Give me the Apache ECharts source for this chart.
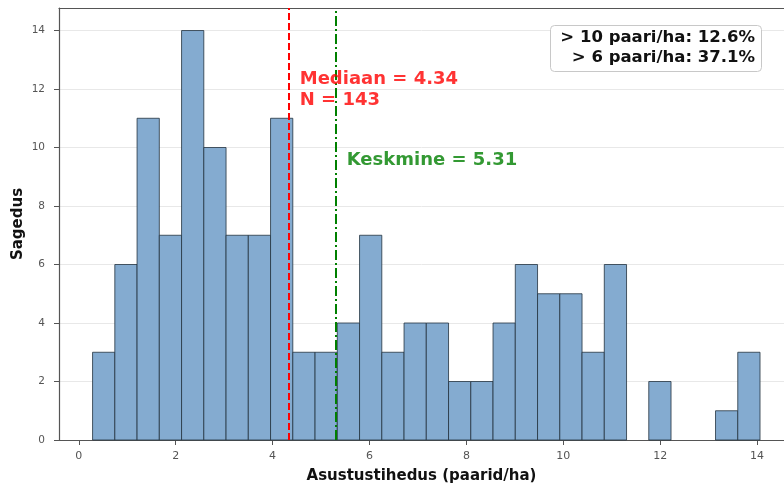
<!DOCTYPE html>
<html>
<head>
<meta charset="utf-8">
<script src="https://cdn.jsdelivr.net/npm/echarts@6/dist/echarts.min.js"></script>
<style>html,body{margin:0;padding:0;background:#fff}#c{width:784px;height:486px}</style>
</head>
<body>
<div id="c"></div>
<script>
// Histogram data (30 bins)
const binStart = 0.283;
const binWidth = 0.4593;
const counts = [3, 6, 11, 7, 14, 10, 7, 7, 11, 3, 3, 4, 7, 3, 4, 4, 2, 2, 4, 6, 5, 5, 3, 6, 0, 2, 0, 0, 1, 3];
const xTicks = [0, 2, 4, 6, 8, 10, 12, 14];
const medianVal = 4.34;
const meanVal = 5.31;
const nTotal = 143;
const shareLines = ['> 10 paari/ha: 12.6%', '> 6 paari/ha: 37.1%'];

const bins = counts.map((c, i) => [binStart + i * binWidth, binStart + (i + 1) * binWidth, c]);

const chart = echarts.init(document.getElementById('c'));
const font = 'DejaVu Sans';
const axisCol = '#555';
chart.setOption({
  animation: false,
  grid: { left: 59, right: 0, top: 8, bottom: 46, outerBoundsMode: 'none', containLabel: false },
  xAxis: [{
    type: 'value', min: -0.41, max: 14.557,
    name: 'Asustustihedus (paarid/ha)', nameLocation: 'middle', nameGap: 29, nameMoveOverlap: false,
    nameTextStyle: { fontFamily: font, fontWeight: 'bold', fontSize: 15, color: '#111' },
    axisLine: { show: true, onZero: false, lineStyle: { color: axisCol, width: 1.2 } },
    axisTick: { show: true, customValues: xTicks, length: 5, lineStyle: { color: axisCol } },
    axisLabel: { customValues: xTicks, fontFamily: font, fontSize: 11, color: '#555', margin: 11 },
    splitLine: { show: false }
  }, {
    type: 'value', min: -0.41, max: 14.557, position: 'top',
    axisLine: { show: true, onZero: false, lineStyle: { color: axisCol, width: 1.2 } },
    axisTick: { show: false }, axisLabel: { show: false }, splitLine: { show: false }
  }],
  yAxis: {
    type: 'value', min: 0, max: 14.77, interval: 2,
    name: 'Sagedus', nameLocation: 'middle', nameGap: 33, nameMoveOverlap: false,
    nameTextStyle: { fontFamily: font, fontWeight: 'bold', fontSize: 15, color: '#111' },
    axisLine: { show: true, onZero: false, lineStyle: { color: axisCol, width: 1.2 } },
    axisTick: { show: true, length: 5, lineStyle: { color: axisCol } },
    axisLabel: { fontFamily: font, fontSize: 10.5, color: '#555', margin: 14, showMaxLabel: false },
    splitLine: { show: true, lineStyle: { color: '#e8e8e8', width: 1 } }
  },
  series: [
    {
      type: 'custom',
      data: bins,
      encode: { x: [0, 1], y: 2 },
      renderItem: function (params, api) {
        if (api.value(2) === 0) return null;
        const p0 = api.coord([api.value(0), 0]);
        const p1 = api.coord([api.value(1), api.value(2)]);
        return {
          type: 'rect',
          shape: { x: p0[0], y: p1[1], width: p1[0] - p0[0], height: p0[1] - p1[1] },
          style: { fill: '#84abd0', stroke: '#23323f', lineWidth: 0.8 }
        };
      },
      z: 2
    },
    {
      type: 'scatter',
      symbolSize: 0,
      data: [[medianVal, 0]],
      z: 5,
      markLine: {
        symbol: 'none', silent: true,
        label: { show: false },
        data: [
          { xAxis: medianVal, lineStyle: { color: '#ff0000', type: [7, 3], width: 2 } },
          { xAxis: meanVal, lineStyle: { color: '#008000', type: [10, 3, 2, 3], width: 2 } }
        ]
      }
    },
    {
      type: 'scatter',
      symbolSize: 0,
      z: 10,
      data: [
        { value: [4.56, 12.33], label: { formatter: 'Mediaan = ' + medianVal.toFixed(2), color: '#ff0000' } },
        { value: [4.56, 11.62], label: { formatter: 'N = ' + nTotal, color: '#ff0000' } },
        { value: [5.53, 9.55], label: { formatter: 'Keskmine = ' + meanVal.toFixed(2), color: '#008000' } }
      ],
      label: { show: true, position: 'right', distance: 0, fontFamily: font, fontWeight: 'bold', fontSize: 18 }
    }
  ],
  graphic: [
    {
      type: 'rect', left: 550, top: 25, z: 20,
      shape: { width: 211, height: 46, r: 4 },
      style: { fill: '#fff', stroke: '#c8c8c8', lineWidth: 1 }
    },
    {
      type: 'text', right: 29, top: 29, z: 21,
      style: { text: shareLines[0], align: 'right', font: 'bold 16.5px "DejaVu Sans"', fill: '#111' }
    },
    {
      type: 'text', right: 29, top: 49, z: 21,
      style: { text: shareLines[1], align: 'right', font: 'bold 16.5px "DejaVu Sans"', fill: '#111' }
    }
  ]
});
</script>
</body>
</html>
